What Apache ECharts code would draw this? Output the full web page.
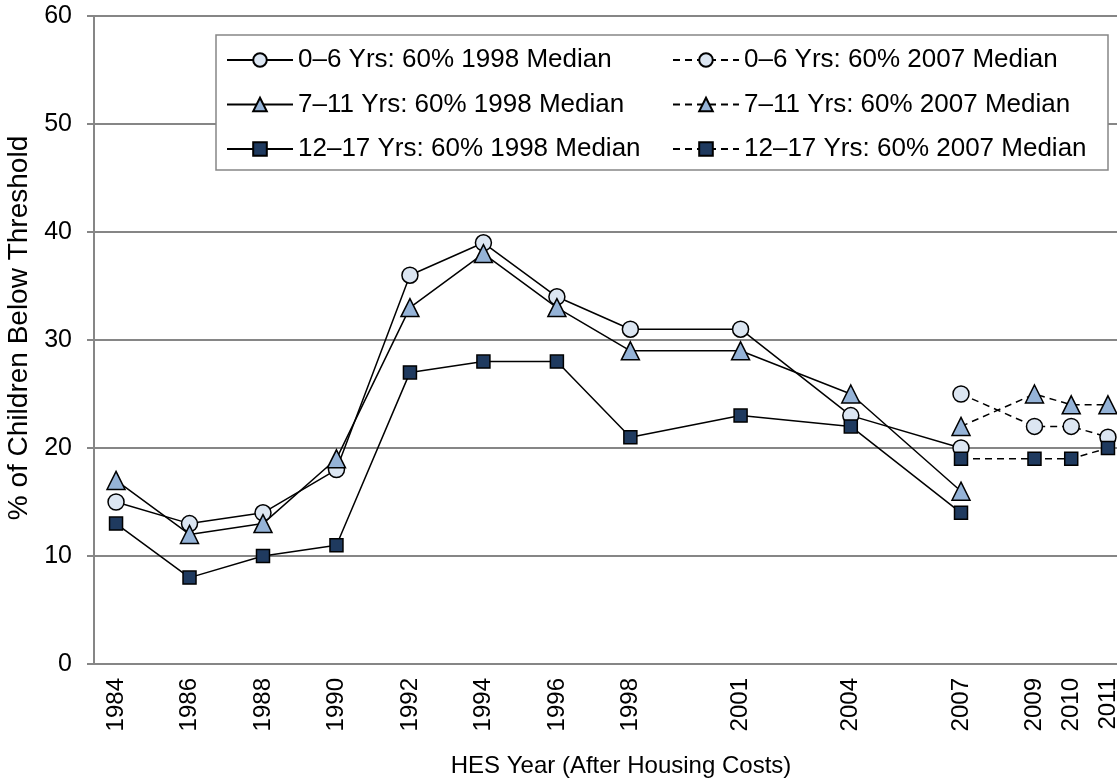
<!DOCTYPE html>
<html>
<head>
<meta charset="utf-8">
<script src="https://cdn.jsdelivr.net/npm/echarts@6/dist/echarts.min.js"></script>
<style>
  html, body { margin: 0; padding: 0; background: #fff; }
  #chart { width: 1117px; height: 782px; }
</style>
</head>
<body>
<div id="chart"></div>
<script>
// data
var years1998 = [1984, 1986, 1988, 1990, 1992, 1994, 1996, 1998, 2001, 2004, 2007];
var years2007 = [2007, 2009, 2010, 2011];
var tickYears = [1984, 1986, 1988, 1990, 1992, 1994, 1996, 1998, 2001, 2004, 2007, 2009, 2010, 2011];

var age06_1998 = [15, 13, 14, 18, 36, 39, 34, 31, 31, 23, 20];
var age711_1998 = [17, 12, 13, 19, 33, 38, 33, 29, 29, 25, 16];
var age1217_1998 = [13, 8, 10, 11, 27, 28, 28, 21, 23, 22, 14];

var age06_2007 = [25, 22, 22, 21];
var age711_2007 = [22, 25, 24, 24];
var age1217_2007 = [19, 19, 19, 20];

var names = [
  '0–6 Yrs: 60% 1998 Median', '7–11 Yrs: 60% 1998 Median', '12–17 Yrs: 60% 1998 Median',
  '0–6 Yrs: 60% 2007 Median', '7–11 Yrs: 60% 2007 Median', '12–17 Yrs: 60% 2007 Median'
];

var FONT = '"Liberation Sans", Arial, sans-serif';

function pairs(xs, ys) {
  return xs.map(function (x, i) { return [x, ys[i]]; });
}

// marker look per age group
var looks = [
  { symbol: 'circle', size: 16, color: '#dce6f2' },
  { symbol: 'triangle', size: 18, color: '#95b3d7' },
  { symbol: 'rect', size: 13, color: '#1f3a5f' }
];

function mkSeries(name, data, look, dashed) {
  return {
    name: name,
    type: 'line',
    data: data,
    symbol: look.symbol,
    symbolSize: look.size,
    showSymbol: true,
    clip: false,
    lineStyle: { color: '#000', width: 1.5, type: dashed ? [7, 5] : 'solid' },
    itemStyle: { color: look.color, borderColor: '#000', borderWidth: 1.5 },
    emphasis: { disabled: true }
  };
}

var legendBase = {
  orient: 'vertical',
  top: 42,
  z: 10,
  itemWidth: 66,
  itemHeight: 17,
  itemGap: 18.5,
  textStyle: { fontFamily: FONT, fontSize: 26, color: '#000' }
};

var chart = echarts.init(document.getElementById('chart'));
chart.setOption({
  animation: false,
  grid: { left: 94, right: -13, top: 16, bottom: 118, outerBoundsMode: 'none', containLabel: false },
  graphic: [{
    type: 'rect',
    z: 5,
    shape: { x: 216, y: 35, width: 892, height: 135 },
    style: { fill: '#fff', stroke: '#868686', lineWidth: 1.5 }
  }],
  legend: [
    Object.assign({}, legendBase, { left: 221, data: names.slice(0, 3) }),
    Object.assign({}, legendBase, { left: 667, data: names.slice(3) })
  ],
  xAxis: {
    type: 'value',
    min: 1983.4,
    max: 2011.6,
    name: 'HES Year (After Housing Costs)',
    nameLocation: 'middle',
    nameGap: 90,
    nameTextStyle: { fontFamily: FONT, fontSize: 24, color: '#000', padding: [0, 0, 0, 18] },
    axisLine: { show: true, lineStyle: { color: '#868686', width: 2 } },
    axisTick: { show: false },
    splitLine: { show: false },
    axisLabel: {
      customValues: tickYears,
      rotate: 90,
      margin: 14,
      fontFamily: FONT,
      fontSize: 24,
      color: '#000',
      formatter: function (v) { return String(v); }
    }
  },
  yAxis: {
    type: 'value',
    min: 0,
    max: 60,
    interval: 10,
    name: '% of Children Below Threshold',
    nameLocation: 'middle',
    nameGap: 61,
    nameTextStyle: { fontFamily: FONT, fontSize: 28, color: '#000', padding: [0, 0, 0, 24] },
    axisLine: { show: true, lineStyle: { color: '#868686', width: 2 } },
    axisTick: { show: true, length: 7, lineStyle: { color: '#868686', width: 2 } },
    splitLine: { show: true, lineStyle: { color: '#868686', width: 2 } },
    axisLabel: { margin: 22, fontFamily: FONT, fontSize: 25, color: '#000' }
  },
  series: [
    mkSeries(names[0], pairs(years1998, age06_1998), looks[0], false),
    mkSeries(names[1], pairs(years1998, age711_1998), looks[1], false),
    mkSeries(names[2], pairs(years1998, age1217_1998), looks[2], false),
    mkSeries(names[3], pairs(years2007, age06_2007), looks[0], true),
    mkSeries(names[4], pairs(years2007, age711_2007), looks[1], true),
    mkSeries(names[5], pairs(years2007, age1217_2007), looks[2], true)
  ]
});
</script>
</body>
</html>
